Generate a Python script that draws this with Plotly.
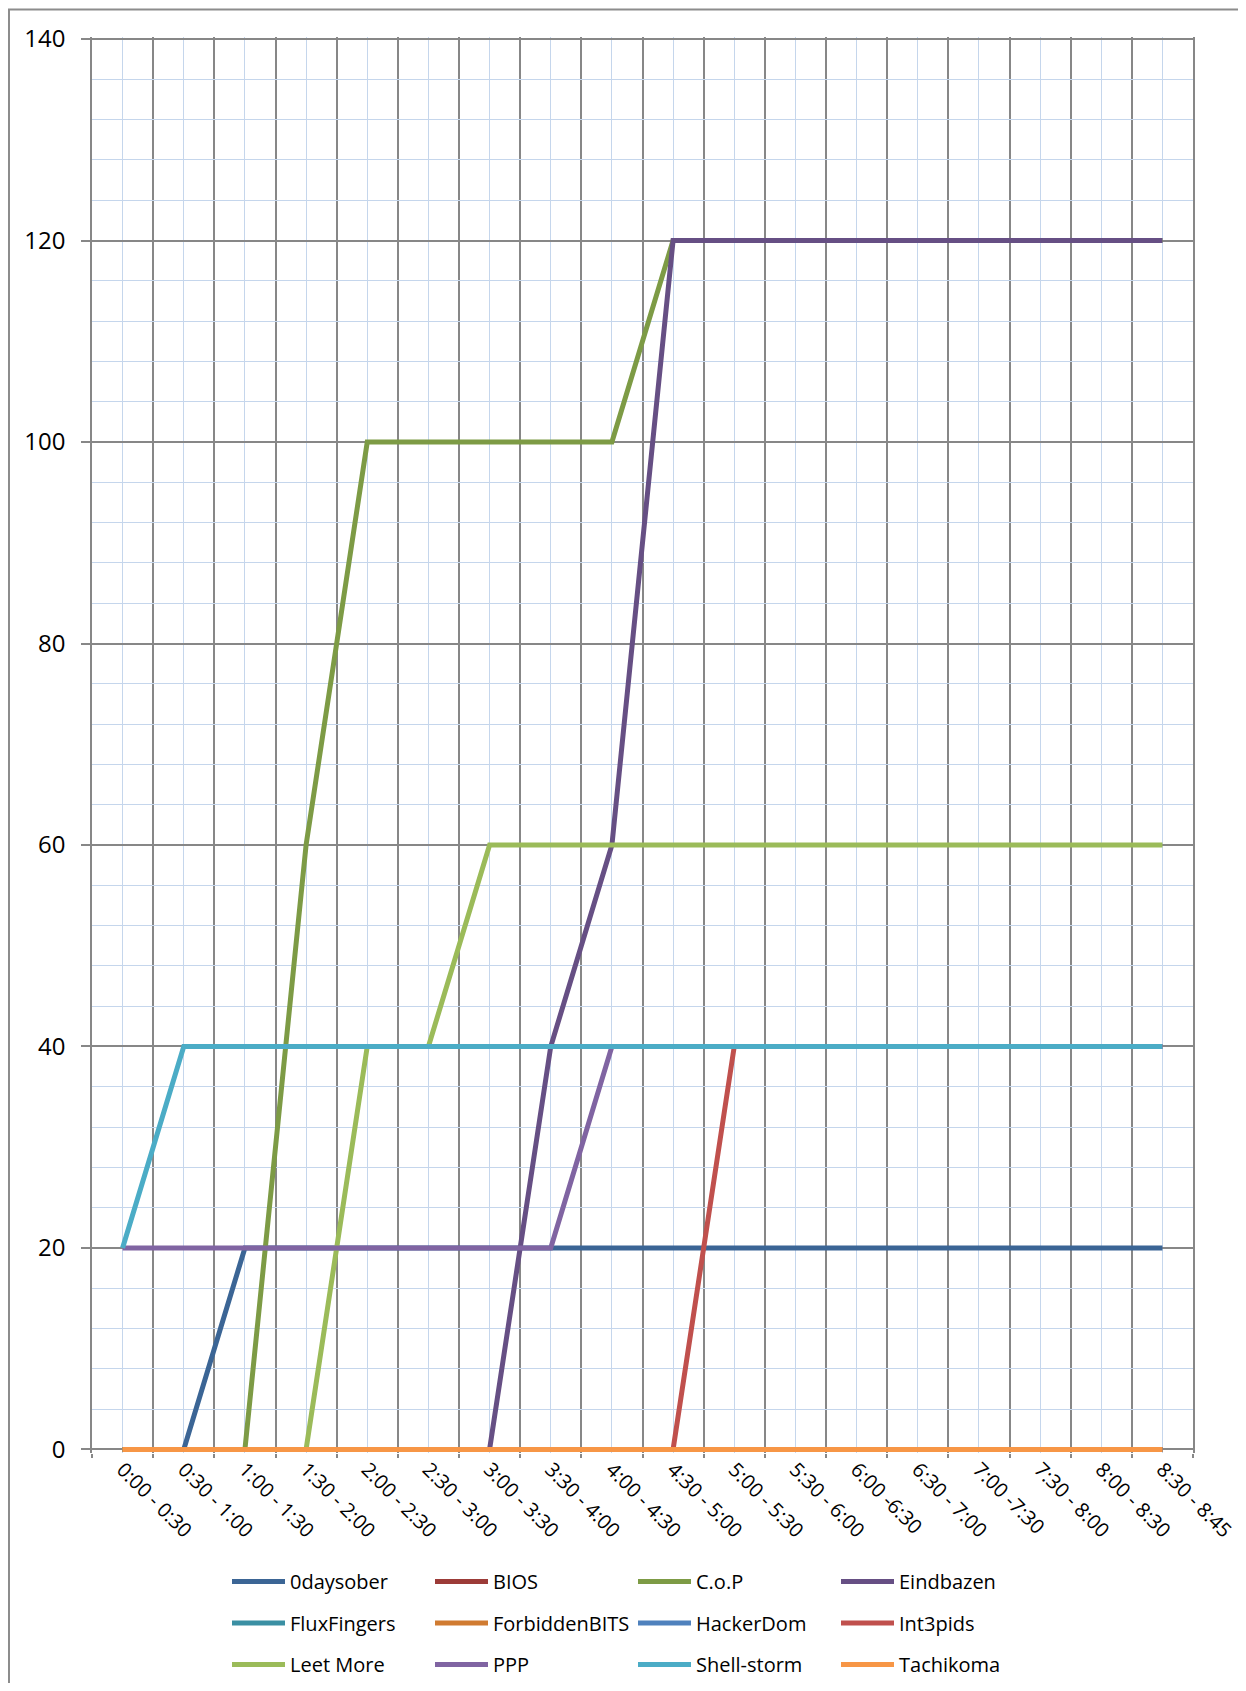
import plotly.graph_objects as go

categories = ["0:00 - 0:30", "0:30 - 1:00", "1:00 - 1:30", "1:30 - 2:00", "2:00 - 2:30",
              "2:30 - 3:00", "3:00 - 3:30", "3:30 - 4:00", "4:00 - 4:30", "4:30 - 5:00",
              "5:00 - 5:30", "5:30 - 6:00", "6:00 -6:30", "6:30 - 7:00", "7:00 -7:30",
              "7:30 - 8:00", "8:00 - 8:30", "8:30 - 8:45"]

teams = ["0daysober", "BIOS", "C.o.P", "Eindbazen", "FluxFingers", "ForbiddenBITS",
         "HackerDom", "Int3pids", "Leet More", "PPP", "Shell-storm", "Tachikoma"]

v_0daysober = [0, 0, 20, 20, 20, 20, 20, 20, 20, 20, 20, 20, 20, 20, 20, 20, 20, 20]
v_bios = [0, 0, 0, 0, 0, 0, 0, 0, 0, 0, 0, 0, 0, 0, 0, 0, 0, 0]
v_cop = [0, 0, 0, 60, 100, 100, 100, 100, 100, 120, 120, 120, 120, 120, 120, 120, 120, 120]
v_eindbazen = [0, 0, 0, 0, 0, 0, 0, 40, 60, 120, 120, 120, 120, 120, 120, 120, 120, 120]
v_fluxfingers = [0, 0, 0, 0, 0, 0, 0, 0, 0, 0, 0, 0, 0, 0, 0, 0, 0, 0]
v_forbiddenbits = [0, 0, 0, 0, 0, 0, 0, 0, 0, 0, 0, 0, 0, 0, 0, 0, 0, 0]
v_hackerdom = [0, 0, 0, 0, 0, 0, 0, 0, 0, 0, 0, 0, 0, 0, 0, 0, 0, 0]
v_int3pids = [0, 0, 0, 0, 0, 0, 0, 0, 0, 0, 40, 40, 40, 40, 40, 40, 40, 40]
v_leetmore = [0, 0, 0, 0, 40, 40, 60, 60, 60, 60, 60, 60, 60, 60, 60, 60, 60, 60]
v_ppp = [20, 20, 20, 20, 20, 20, 20, 20, 40, 40, 40, 40, 40, 40, 40, 40, 40, 40]
v_shellstorm = [20, 40, 40, 40, 40, 40, 40, 40, 40, 40, 40, 40, 40, 40, 40, 40, 40, 40]
v_tachikoma = [0, 0, 0, 0, 0, 0, 0, 0, 0, 0, 0, 0, 0, 0, 0, 0, 0, 0]

series = [v_0daysober, v_bios, v_cop, v_eindbazen, v_fluxfingers, v_forbiddenbits,
          v_hackerdom, v_int3pids, v_leetmore, v_ppp, v_shellstorm, v_tachikoma]

colors = ["#3B6595", "#9C3B38", "#7D9B45", "#664F84", "#3A8FA3", "#D07B31",
          "#4F81BD", "#C0504D", "#9BBB59", "#8064A2", "#4BACC6", "#F79646"]

FONT = "Open Sans"
MAJOR = "#878787"
MINOR = "#C5D6EC"

xs = list(range(len(categories)))

fig = go.Figure()
for i, (name, vals, col) in enumerate(zip(teams, series, colors)):
    leg = "legend" if i < 4 else ("legend2" if i < 8 else "legend3")
    fig.add_trace(go.Scatter(
        x=xs, y=vals, name=name, mode="lines",
        line=dict(color=col, width=5),
        legend=leg,
    ))

# page body has an 8px margin; figure sized to fit inside the window
W, H = 1230, 1675
legend_common = dict(
    orientation="h", xref="container", yref="container",
    xanchor="left", yanchor="middle",
    font=dict(family=FONT, size=20, color="#000000"),
    entrywidth=135, entrywidthmode="pixels", itemwidth=53,
    bgcolor="rgba(0,0,0,0)", tracegroupgap=0,
)

fig.update_layout(
    width=W, height=H,
    paper_bgcolor="white", plot_bgcolor="white",
    margin=dict(l=84, r=45, t=29, b=230, autoexpand=False),
    showlegend=True,
    legend=dict(**legend_common, x=219 / W, y=1 - 1573.5 / H),
    legend2=dict(**legend_common, x=219 / W, y=1 - 1615 / H),
    legend3=dict(**legend_common, x=219 / W, y=1 - 1656.5 / H),
    xaxis=dict(
        range=[-0.5, len(categories) - 0.5], automargin=False,
        tickmode="array", tickvals=xs, ticktext=categories,
        tickangle=45, ticks="", ticklabeloverflow="allow",
        tickfont=dict(family=FONT, size=20, color="#000000"),
        showgrid=True, gridcolor=MINOR, gridwidth=1.3,
        zeroline=False, showline=False,
        minor=dict(tickvals=[k - 0.5 for k in range(len(categories) + 1)],
                   showgrid=True, gridcolor=MAJOR, gridwidth=1.5,
                   ticks="outside", ticklen=4, tickcolor=MAJOR, tickwidth=1.5),
    ),
    yaxis=dict(
        range=[-0.35, 140.2], tick0=0, dtick=20, automargin=False,
        ticks="outside", ticklen=9, tickcolor=MAJOR, tickwidth=1.5,
        ticklabelstandoff=11,
        tickfont=dict(family=FONT, size=24, color="#000000"),
        showgrid=True, gridcolor=MAJOR, gridwidth=1.5,
        zeroline=True, zerolinecolor=MAJOR, zerolinewidth=1.5,
        showline=True, linecolor=MAJOR, linewidth=1.5, mirror=True,
        minor=dict(tick0=0, dtick=4, showgrid=True, gridcolor=MINOR, gridwidth=1.3, ticks=""),
    ),
    shapes=[dict(type="rect", xref="paper", yref="paper",
                 x0=-0.0754, x1=1.3, y0=-0.4, y1=1.0194,
                 line=dict(color="#8C8C8C", width=2), fillcolor="rgba(0,0,0,0)", layer="below")],
)

fig.write_html("out.html")
